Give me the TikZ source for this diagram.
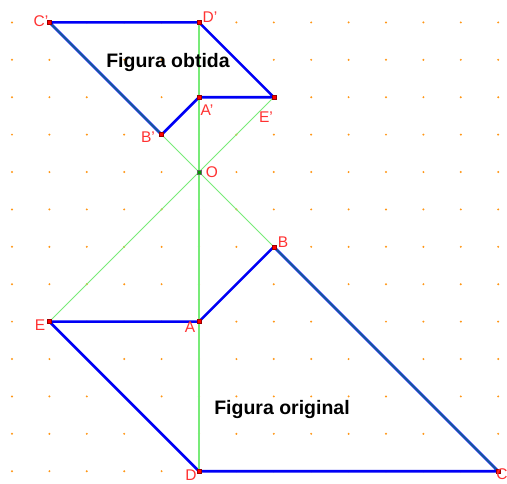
\documentclass[tikz,border=0pt]{standalone}
\usepackage{fontspec}
\setmainfont{Liberation Sans}
\definecolor{dotc}{RGB}{255,150,20}
\definecolor{lgreen}{RGB}{120,235,120}
\definecolor{polyblue}{RGB}{0,0,245}
\definecolor{tealc}{RGB}{20,100,140}
\definecolor{lblred}{RGB}{255,50,50}
\begin{document}
\begin{tikzpicture}[x=1pt,y=-1pt,
  gridpt/.style={fill=dotc,draw=none},
  poly/.style={draw=polyblue,line width=2.6pt,line join=round},
  overlay line/.style={draw=tealc,line width=1.1pt},
  guide/.style={draw=lgreen,line width=1pt},
  vguide/.style={draw=lgreen,line width=1.8pt},
  ptmark/.style={fill=red,draw=red!60!black,line width=0.4pt,minimum size=4pt,inner sep=0pt,rectangle},
  omark/.style={fill=green!60!black,draw=black!60,line width=0.4pt,minimum size=4.5pt,inner sep=0pt,rectangle},
  lbl/.style={text=lblred,font=\fontsize{15.5}{15.5}\selectfont,inner sep=0pt},
  title/.style={text=black,font=\fontsize{19.5}{20}\selectfont\bfseries,inner sep=0pt}]
\useasboundingbox (0,0) rectangle (507,483);
\fill[white] (0,0) rectangle (507,483);
\def\s{37.4}
% grid dots
\foreach \i in {-5,...,8}{
  \foreach \j in {-4,...,8}{
    \fill[gridpt] ({199+\s*\i},{172+\s*\j}) circle (1.1pt);
  }
}
% points
\coordinate (O) at (199,172);
\coordinate (Cp) at ({199-4*\s},{172-4*\s});
\coordinate (Dp) at (199,{172-4*\s});
\coordinate (Ap) at (199,{172-2*\s});
\coordinate (Ep) at ({199+2*\s},{172-2*\s});
\coordinate (Bp) at ({199-\s},{172-\s});
\coordinate (B) at ({199+2*\s},{172+2*\s});
\coordinate (A) at (199,{172+4*\s});
\coordinate (E) at ({199-4*\s},{172+4*\s});
\coordinate (D) at (199,{172+8*\s});
\coordinate (C) at ({199+8*\s},{172+8*\s});
% polygons
\draw[poly] (A) -- (B) -- (C) -- (D) -- (E) -- cycle;
\draw[poly] (Ap) -- (Bp) -- (Cp) -- (Dp) -- (Ep) -- cycle;
% guide lines
\draw[vguide] (Dp) -- (D);
\draw[guide] (Cp) -- (C);
\draw[guide] (Ep) -- (E);
\draw[overlay line] (Cp) -- (Bp);
\draw[overlay line] (B) -- (C);
% markers
\foreach \p in {Cp,Dp,Ap,Ep,Bp,B,A,E,D,C}{
  \node[ptmark] at (\p) {};
}
\node[omark] at (O) {};
% labels
\node[lbl] (lCp) at (41,21) {C'};
\node[lbl] (lDp) at (210,17) {D'};
\node[lbl] (lAp) at (207,110) {A'};
\node[lbl] (lEp) at (266,117) {E'};
\node[lbl] (lBp) at (148,137) {B'};
\node[lbl] (lO) at (212,172) {O};
\node[lbl] (lB) at (283,242) {B};
\node[lbl] (lE) at (40,325) {E};
\node[lbl] (lA) at (190,327) {A};
\node[lbl] (lD) at (191,475) {D};
\node[lbl] (lC) at (502,474) {C};
\node[title] (t1) at (168,62) {Figura obtida};
\node[title] (t2) at (282,409) {Figura original};
\end{tikzpicture}
\end{document}
